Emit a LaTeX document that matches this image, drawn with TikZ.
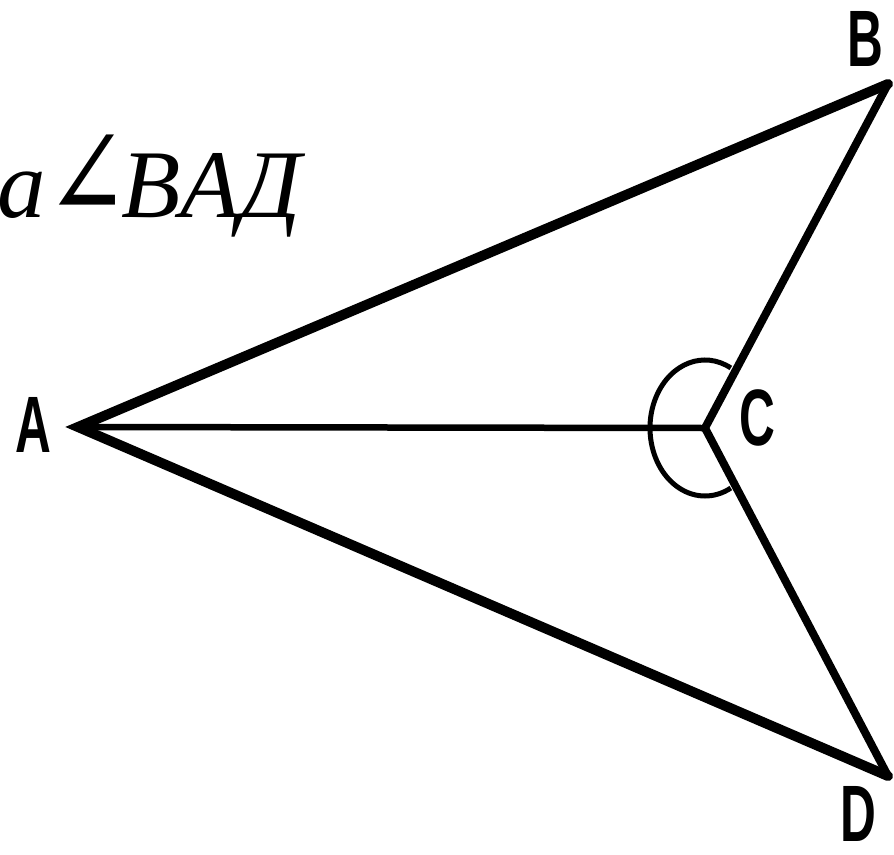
\documentclass[tikz,border=0pt]{standalone}
\usepackage{fontspec}
\usepackage{graphicx}
\usetikzlibrary{calc}
\setmainfont{Liberation Serif}
\newfontfamily\lblfont{Liberation Sans}
\newfontfamily\symfont{DejaVu Serif}
\tikzset{
  vlabel/.style={inner sep=0pt, font=\lblfont\bfseries\fontsize{80}{80}\selectfont},
  thickedge/.style={line width=10pt, line join=miter, line cap=round},
  midedge/.style={line width=8pt, line cap=round},
  caption/.style={inner sep=0pt, font=\itshape\fontsize{97}{97}\selectfont},
}
\newcommand{\narrow}[1]{\scalebox{0.62}[1]{#1}}
\begin{document}
\begin{tikzpicture}[x=1pt,y=-1pt]
\useasboundingbox (0,0) rectangle (894,854);
\fill[white] (0,0) rectangle (894,854);
\clip (0,0) rectangle (894,854);
\coordinate (A) at (78,427);
\coordinate (B) at (888,84);
\coordinate (C) at (705,428);
\coordinate (D) at (888,776);
% angle arc at C
\draw[line width=5pt] ($(C)+(-62:55 and 68)$) arc[start angle=-62, end angle=-298, x radius=55, y radius=68];
\draw[thickedge] (B) -- (A) -- (D);
\draw[line width=6.5pt] (A) -- (C);
\draw[midedge] (B) -- (C) -- (D);
\node[vlabel] (la) at (33,425) {\narrow{A}};
\node[vlabel] (lb) at (865,39) {\narrow{B}};
\node[vlabel] (lc) at (757,418) {\narrow{C}};
\node[vlabel] (ld) at (858,814) {\narrow{D}};
\node[caption, anchor=base east] (txt1) at (46,217) {га};
\node[inner sep=0pt, anchor=base west, font=\symfont\fontsize{125}{125}\selectfont] (ang) at (45,217) {\scalebox{0.8}[1]{∠}};
\node[caption, anchor=base west] (txt2) at (121,217) {BAД};
\end{tikzpicture}
\end{document}
